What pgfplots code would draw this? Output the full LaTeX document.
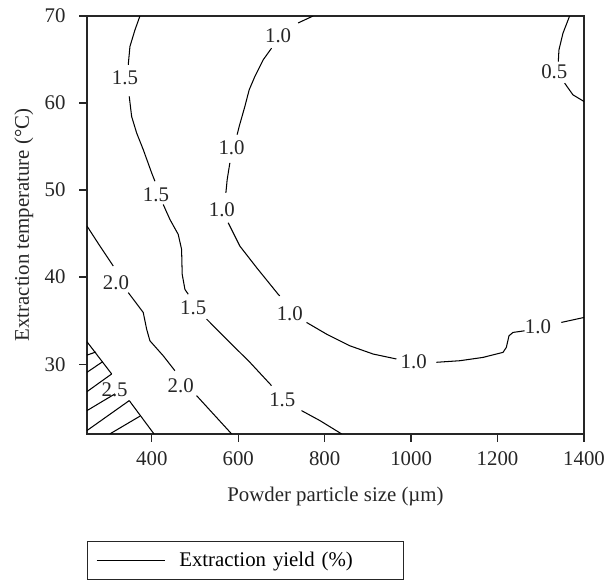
\documentclass[border=0pt]{standalone}
\usepackage{fontspec}
\setmainfont{Liberation Serif}
\usepackage{pgfplots}
\pgfplotsset{compat=1.18}

\begin{document}
\begin{tikzpicture}
  \begin{axis}[
      scale only axis,
      width=238.6pt, height=200.6pt,
      xmin=250, xmax=1400, ymin=22, ymax=70,
      xtick={400,600,800,1000,1200,1400},
      ytick={30,40,50,60,70},
      scaled x ticks=false,
      /pgf/number format/1000 sep={},
      /pgf/number format/assume math mode=true,
      tick pos=left, tick align=outside,
      major tick length=3.8pt,
      axis line style={line width=0.65pt, draw=black!85},
      every tick/.style={line width=0.65pt, draw=black!85},
      tick label style={font=\fontsize{10}{12}\selectfont, text=black!85},
      xticklabel style={yshift=-1.3pt},
      yticklabel style={xshift=-3pt},
      xlabel={Powder particle size (\textmu m)},
      ylabel={Extraction temperature (°C)},
      xlabel style={at={(axis description cs:0.5,0)}, anchor=base, yshift=-32.6pt, text=black!85},
      ylabel style={at={(axis description cs:-0.117,0.5)}, anchor=base, text=black!85},
      legend style={at={(axis description cs:0,-0.2557)}, anchor=north west,
        draw=black!85, line width=0.65pt, inner xsep=4pt, inner ysep=3pt,
        column sep=4.8pt,
        nodes={inner sep=2pt, text width=101.6pt, align=left}},
      legend cell align=left,
      legend image code/.code={\draw[#1] (0pt,0pt) -- (32.7pt,0pt);},
    ]
    \coordinate (bl) at (rel axis cs:0,0);
    \coordinate (tr) at (rel axis cs:1,1);
    % contour 1.5
    \addplot[black, line width=0.5pt] coordinates {
      (372.5,70) (361,68.4) (349.4,66.5) (345.5,64.4)
    };
    \addlegendentry{Extraction yield (\%)}
    \addplot[black, line width=0.5pt, forget plot] coordinates {
      (347.8,60.76) (353.3,58.46) (364.9,56.56) (380.2,54.65) (399.6,51.98) (407.2,51.02)
    };
    \addplot[black, line width=0.5pt, forget plot] coordinates {
      (426.4,48.35) (441.9,46.63) (461.1,44.91) (468.9,43.2) (470.3,40.33) (476.6,38.6) (484.2,38.04)
    };
    \addplot[black, line width=0.5pt, forget plot] coordinates {
      (526.8,35.18) (588.3,32.12) (626.9,30.22) (677,27.54)
    };
    \addplot[black, line width=0.5pt, forget plot] coordinates {
      (746.4,24.67) (788.7,23.53) (838.9,22)
    };
    % contour 1.0
    \addplot[black, line width=0.5pt, forget plot] coordinates {
      (738.5,69.2) (773.2,70)
    };
    \addplot[black, line width=0.5pt, forget plot] coordinates {
      (677,66.3) (657.6,64.96) (638.4,63.05) (625.3,61.52) (615.3,59.61) (602.2,57.32) (597.5,56.37)
    };
    \addplot[black, line width=0.5pt, forget plot] coordinates {
      (580.6,53.13) (574.4,51.21) (571.4,49.69)
    };
    \addplot[black, line width=0.5pt, forget plot] coordinates {
      (576.7,46.25) (603.7,43.57) (642.4,41.1) (692.3,38.04) (696.2,37.85)
    };
    \addplot[black, line width=0.5pt, forget plot] coordinates {
      (758,34.8) (804.2,33.46) (858,32.12) (912,31.17) (966,30.6)
    };
    \addplot[black, line width=0.5pt, forget plot] coordinates {
      (1058.5,30.22) (1112.4,30.4) (1166.2,30.78) (1212.5,31.36) (1220.3,31.93)
      (1226.4,33.26) (1235.6,33.65) (1262.7,33.84)
    };
    \addplot[black, line width=0.5pt, forget plot] coordinates {
      (1347.5,34.8) (1400,35.37)
    };
    % contour 0.5
    \addplot[black, line width=0.5pt, forget plot] coordinates {
      (1366.7,70) (1351.3,68.02) (1342,66.1) (1340.6,64.77)
    };
    \addplot[black, line width=0.5pt, forget plot] coordinates {
      (1355.2,62.29) (1374.3,60.95) (1400,60.18)
    };
    % contour 2.0
    \addplot[black, line width=0.5pt, forget plot] coordinates {
      (250,45.87) (280,43.57) (310.8,41.28)
    };
    \addplot[black, line width=0.5pt, forget plot] coordinates {
      (345.5,38.23) (380.2,35.94) (388,34.03) (395.6,32.69) (426.4,30.97) (453.5,29.25)
    };
    \addplot[black, line width=0.5pt, forget plot] coordinates {
      (503.6,26.39) (584.5,22)
    };
    % contour 2.5 and hatching
    \addplot[black, line width=0.5pt, forget plot] coordinates {
      (250,32.58) (307.1,28.88)
    };
    \addplot[black, line width=0.5pt, forget plot] coordinates {
      (347.8,25.82) (404.9,22)
    };
    \addplot[black, line width=0.5pt, forget plot] coordinates {(250,31.05) (270.8,31.4)};
    \addplot[black, line width=0.5pt, forget plot] coordinates {(250,29.07) (286.3,30.29)};
    \addplot[black, line width=0.5pt, forget plot] coordinates {(250,26.85) (307.1,28.88)};
    \addplot[black, line width=0.5pt, forget plot] coordinates {(250,24.67) (314.7,26.59)};
    \addplot[black, line width=0.5pt, forget plot] coordinates {(250,22.38) (347.8,25.82)};
    \addplot[black, line width=0.5pt, forget plot] coordinates {(303.2,22) (372.5,24.03)};
    % labels
    \begin{scope}[every node/.style={font=\fontsize{10}{12}\selectfont, text=black!85, inner sep=0pt}]
      \node at (axis cs:337.9,62.9) {1.5};
      \node at (axis cs:409.5,49.5) {1.5};
      \node at (axis cs:495.8,36.5) {1.5};
      \node at (axis cs:702,25.95) {1.5};
      \node at (axis cs:692.3,67.77) {1.0};
      \node at (axis cs:584.5,54.84) {1.0};
      \node at (axis cs:562.1,47.7) {1.0};
      \node at (axis cs:719.3,35.8) {1.0};
      \node at (axis cs:1006,30.27) {1.0};
      \node at (axis cs:1293.4,34.32) {1.0};
      \node at (axis cs:1331.3,63.62) {0.5};
      \node at (axis cs:317,39.41) {2.0};
      \node at (axis cs:466.9,27.54) {2.0};
      \node at (axis cs:314,27.07) {2.5};
    \end{scope}
  \end{axis}
  \pgfresetboundingbox
  \path[use as bounding box] ([shift={(-41.76pt,-72.96pt)}]bl) rectangle ([shift={(9.6pt,7.68pt)}]tr);
\end{tikzpicture}
\end{document}
